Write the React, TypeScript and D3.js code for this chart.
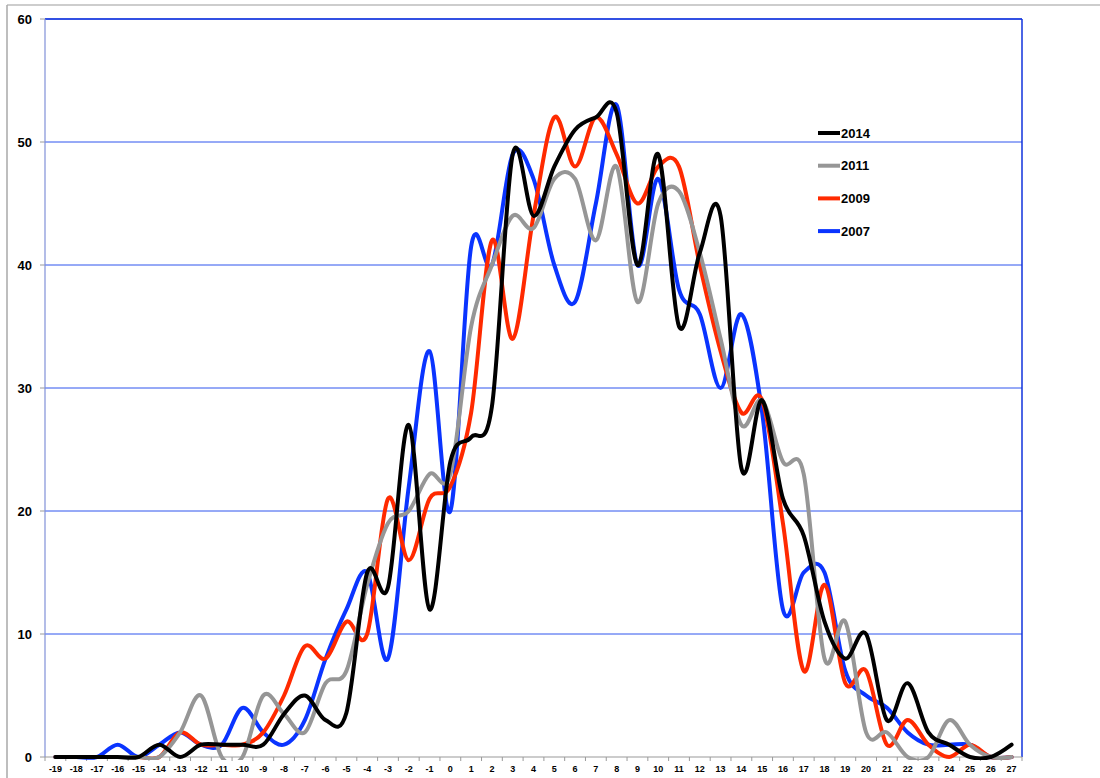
import React from "react";
import * as d3 from "d3";

const categories: number[] = d3.range(-19, 28);
const yTicks: number[] = [0, 10, 20, 30, 40, 50, 60];

const s2014: number[] = [0,0,0,0,0,1,0,1,1,1,1,3.5,5,3,3.6,15,13.8,27,12,24,26,28.5,49,44,48,51,52,52.4,40,49,35,41,44,23.5,29,21,18,11,8,10,3,6,2,1,0,0,1];
const s2011: number[] = [0,0,0,0,0,0,2,5,0,0,5,3.5,2,6,7,14,19,20,23,23,35,40,44,43,47,47,42,48,37,45,46,41,34,27,29,24,23,8,11,2,2,0,0,3,1,0,0];
const s2009: number[] = [0,0,0,0,0,0,2,1,1,1,2,5,9,8,11,10,21,16,21,22,28,42,34,44,52,48,52,49,45,48,48,40,33,28,29,19,7,14,6,7,1,3,1,0,1,0,0];
const s2007: number[] = [0,0,0,1,0,1,2,1,1,4,2,1,3,8,12,15,8,22,33,20,41.5,40,49,47,40,37,45,53,40,47,38,36,30,36,28,12,15,15,7,5,4,2,1,1,1,0,0];

const seriesNames: string[] = ["2014", "2011", "2009", "2007"];
const seriesColors: string[] = ["#000000", "#969696", "#ff2a00", "#0a34ff"];
const seriesData: number[][] = [s2014, s2011, s2009, s2007];

export default function App() {
  const W = 1100, H = 778;
  const left = 45, right = 1022, top = 19, bottom = 757;
  const x = d3.scaleBand<number>().domain(categories).range([left, right]);
  const cx = (c: number) => (x(c) as number) + x.bandwidth() / 2;
  const y = d3.scaleLinear().domain([0, 60]).range([bottom, top]);
  const line = d3
    .line<number>()
    .x((_, i) => cx(categories[i]))
    .y((d) => y(d))
    .curve(d3.curveCatmullRom.alpha(0));
  const font = "'Liberation Sans', Arial, sans-serif";
  const order = [3, 2, 1, 0];
  return (
    <svg
      width={W}
      height={H}
      style={{ position: "absolute", left: 0, top: 0, background: "#fff" }}
    >
      <defs>
        <clipPath id="plotClip">
          <rect x={left} y={top - 3} width={right - left} height={bottom - top + 6} />
        </clipPath>
      </defs>
      <line x1={7} y1={5} x2={W} y2={5} stroke="#bdbdbd" strokeWidth={1.5} />
      <line x1={7} y1={5} x2={7} y2={H} stroke="#a8a8a8" strokeWidth={1.5} />
      {yTicks.map((t) => (
        <g key={t}>
          {t > 0 && (
            <line x1={left} x2={right} y1={y(t)} y2={y(t)} stroke="#2f55ee" strokeWidth={1} />
          )}
          <line x1={40} x2={left} y1={y(t)} y2={y(t)} stroke="#9a9a9a" strokeWidth={1} />
          <text
            x={32}
            y={y(t)}
            dy="0.35em"
            textAnchor="end"
            fontFamily={font}
            fontWeight="bold"
            fontSize={13}
            fill="#000"
          >
            {t}
          </text>
        </g>
      ))}
      <line x1={left} x2={right} y1={top} y2={top} stroke="#1133dd" strokeWidth={1.5} />
      <line x1={right} x2={right} y1={top} y2={bottom} stroke="#1133dd" strokeWidth={1.5} />
      <line x1={left} x2={left} y1={top} y2={bottom} stroke="#8090d8" strokeWidth={1.2} />
      <line x1={left} x2={right} y1={bottom} y2={bottom} stroke="#9a9a9a" strokeWidth={1.2} />
      {categories.map((c, i) => (
        <g key={c}>
          <line
            x1={x(c) as number}
            x2={x(c) as number}
            y1={bottom}
            y2={bottom + 4}
            stroke="#9a9a9a"
          />
          {i === categories.length - 1 && (
            <line x1={right} x2={right} y1={bottom} y2={bottom + 4} stroke="#9a9a9a" />
          )}
          <text
            x={cx(c)}
            y={772}
            textAnchor="middle"
            fontFamily={font}
            fontWeight="bold"
            fontSize={9}
            fill="#000"
          >
            {c}
          </text>
        </g>
      ))}
      <g clipPath="url(#plotClip)">
        {order.map((k) => (
          <path
            key={seriesNames[k]}
            d={line(seriesData[k]) || ""}
            fill="none"
            stroke={seriesColors[k]}
            strokeWidth={4}
            strokeLinejoin="round"
            strokeLinecap="round"
          />
        ))}
      </g>
      {seriesNames.map((n, i) => (
        <g key={n} transform={`translate(818, ${133 + i * 32.7})`}>
          <line x1={0} x2={22} y1={0} y2={0} stroke={seriesColors[i]} strokeWidth={4} />
          <text
            x={23}
            y={0}
            dy="0.35em"
            fontFamily={font}
            fontWeight="bold"
            fontSize={13}
            fill="#000"
          >
            {n}
          </text>
        </g>
      ))}
    </svg>
  );
}
